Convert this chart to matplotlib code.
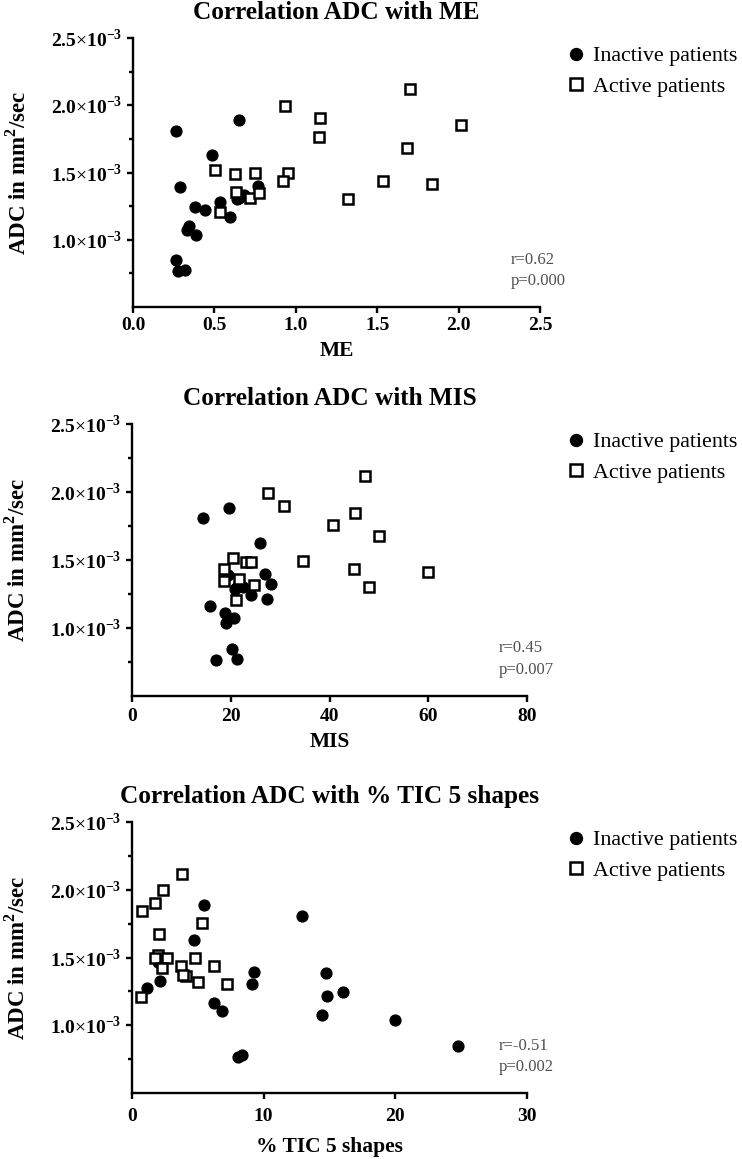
import numpy as np
import matplotlib
matplotlib.use("Agg")
from matplotlib import pyplot as plt
from matplotlib.ticker import FixedLocator, FuncFormatter

plt.rcParams["font.family"] = ["Liberation Serif", "DejaVu Serif"]
plt.rcParams["mathtext.fontset"] = "custom"
plt.rcParams["mathtext.rm"] = "Liberation Serif"
plt.rcParams["mathtext.bf"] = "Liberation Serif:bold"

# ADC values are given in units of 1e-3 mm^2/sec

# ME
me_inactive = [0.266, 0.652, 0.484, 0.287, 0.379, 0.441, 0.534, 0.598, 0.344, 0.332,
               0.385, 0.262, 0.277, 0.318, 0.768, 0.653, 0.680, 0.641]
adc_me_inactive = [1.81, 1.89, 1.63, 1.39, 1.245, 1.22, 1.28, 1.17, 1.105, 1.075,
                   1.035, 0.85, 0.765, 0.772, 1.40, 1.31, 1.335, 1.30]
me_active = [0.502, 0.625, 0.752, 0.934, 0.953, 0.920, 1.148, 1.143, 0.635, 0.717,
             0.773, 0.533, 1.320, 1.533, 1.701, 1.684, 1.834, 2.012]
adc_me_active = [1.516, 1.491, 1.496, 1.998, 1.496, 1.437, 1.902, 1.761, 1.358, 1.311,
                 1.345, 1.207, 1.306, 1.437, 2.122, 1.679, 1.417, 1.850]

# MIS
mis_inactive = [14.4, 19.6, 25.9, 19.4, 27.0, 28.1, 27.3, 24.2, 22.5, 20.8,
                15.75, 18.9, 19.0, 20.6, 20.2, 17.0, 21.3, 21.2]
adc_mis_inactive = [1.806, 1.885, 1.625, 1.39, 1.394, 1.326, 1.213, 1.245, 1.304, 1.285,
                    1.164, 1.108, 1.039, 1.075, 0.848, 0.767, 0.775, 1.30]
mis_active = [27.6, 30.8, 47.2, 45.2, 40.8, 50.0, 34.6, 45.0, 47.9, 60.0,
              20.4, 23.0, 24.2, 18.7, 18.7, 21.6, 24.7, 21.0]
adc_mis_active = [1.995, 1.897, 2.118, 1.846, 1.755, 1.674, 1.490, 1.434, 1.304, 1.414,
                  1.517, 1.488, 1.483, 1.436, 1.346, 1.360, 1.316, 1.206]

# % TIC 5 shapes
tic_inactive = [5.48, 12.88, 4.69, 9.28, 9.13, 14.73, 14.79, 16.0, 14.4, 19.98,
                24.75, 1.17, 2.13, 6.24, 6.85, 8.06, 8.32, 2.0]
adc_tic_inactive = [1.887, 1.806, 1.627, 1.392, 1.306, 1.387, 1.213, 1.245, 1.076, 1.037,
                    0.846, 1.275, 1.326, 1.167, 1.103, 0.767, 0.777, 1.47]
tic_active = [3.83, 2.36, 1.78, 0.79, 5.28, 2.03, 2.0, 1.75, 2.65, 4.8,
              2.3, 3.7, 6.2, 4.1, 3.9, 5.0, 7.25, 0.66]
adc_tic_active = [2.115, 1.998, 1.90, 1.846, 1.752, 1.676, 1.52, 1.495, 1.495, 1.50,
                  1.42, 1.44, 1.44, 1.36, 1.37, 1.32, 1.305, 1.21]

titles = ["Correlation ADC with ME", "Correlation ADC with MIS",
          "Correlation ADC with % TIC 5 shapes"]
xlabels = ["ME", "MIS", "% TIC 5 shapes"]
xmaxes = [2.5, 80, 30]
xticks = [[0, 0.5, 1.0, 1.5, 2.0, 2.5], [0, 20, 40, 60, 80], [0, 10, 20, 30]]
xtick_fmt = ["{:.1f}", "{:.0f}", "{:.0f}"]
r_text = ["r=0.62", "r=0.45", "r=-0.51"]
p_text = ["p=0.000", "p=0.007", "p=0.002"]

W, H = 742, 1159
fig = plt.figure(figsize=(W / 100, H / 100), dpi=100)

# axes boxes in pixels: left, right, top, bottom
boxes = [(133, 540, 38, 307), (132, 527, 424, 696), (132, 527, 822, 1093)]
xtick_pads = [3, 4, 6]
xlabel_pads = [5, 5, 9]

data = [(me_inactive, adc_me_inactive, me_active, adc_me_active),
        (mis_inactive, adc_mis_inactive, mis_active, adc_mis_active),
        (tic_inactive, adc_tic_inactive, tic_active, adc_tic_active)]


def ytick_label(v, pos):
    return "%.1f" % (v * 1e3) + r"$\times$10$^{\mathbf{-3}}$"


for i in range(3):
    l, r, t, b = boxes[i]
    ax = fig.add_axes([l / W, 1 - b / H, (r - l) / W, (b - t) / H])
    xi, yi, xa, ya = data[i]
    ax.plot(xi, np.array(yi) * 1e-3, "o", color="black", markersize=7.8,
            label="Inactive patients", clip_on=False)
    ax.plot(xa, np.array(ya) * 1e-3, "s", markerfacecolor="white",
            markeredgecolor="black", markeredgewidth=1.8, markersize=7.4,
            label="Active patients", clip_on=False)

    ax.set_xlim(0, xmaxes[i])
    ax.set_ylim(0.5e-3, 2.5e-3)
    ax.set_xticks(xticks[i])
    ax.set_xticklabels([xtick_fmt[i].format(v) for v in xticks[i]])
    ax.yaxis.set_major_locator(FixedLocator([1.0e-3, 1.5e-3, 2.0e-3, 2.5e-3]))
    ax.yaxis.set_minor_locator(FixedLocator([0.75e-3, 1.25e-3, 1.75e-3, 2.25e-3]))
    ax.yaxis.set_major_formatter(FuncFormatter(ytick_label))

    for s in ["top", "right"]:
        ax.spines[s].set_visible(False)
    for s in ["left", "bottom"]:
        ax.spines[s].set_linewidth(1.7)
    ax.tick_params(which="major", length=4.5, width=1.7, labelsize=14, pad=3)
    ax.tick_params(axis="x", which="major", pad=xtick_pads[i])
    ax.tick_params(which="minor", length=3, width=1.7)
    for lab in ax.get_xticklabels() + ax.get_yticklabels():
        lab.set_fontweight("bold")

    ax.set_title(titles[i], fontsize=18.2, fontweight="bold", pad=14)
    ax.set_xlabel(xlabels[i], fontsize=15.5, fontweight="bold", labelpad=xlabel_pads[i])
    ax.set_ylabel(r"ADC in mm$^{\mathbf{2}}$/sec", fontsize=16.5, fontweight="bold",
                  labelpad=15)

    ax.text(0.928, 0.175, r_text[i], transform=ax.transAxes, fontsize=12,
            color="#505050", va="center")
    ax.text(0.928, 0.095, p_text[i], transform=ax.transAxes, fontsize=12,
            color="#505050", va="center")

    ax.legend(loc="upper left", bbox_to_anchor=(568 / W, 1 - (t + 8) / H),
              bbox_transform=fig.transFigure, frameon=False, fontsize=15.8,
              borderpad=0, borderaxespad=0, handlelength=0.7, handletextpad=0.45,
              labelspacing=0.45, numpoints=1, markerscale=1.1)

fig.savefig("out.png", dpi=100)
